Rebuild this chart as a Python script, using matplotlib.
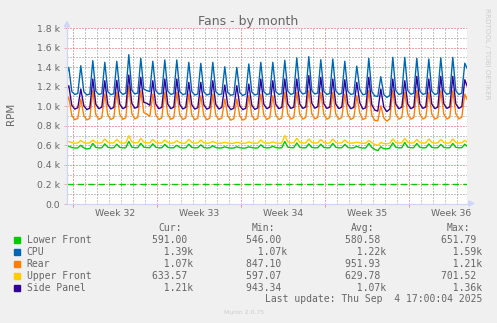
import numpy as np
import matplotlib

matplotlib.use("Agg")
import matplotlib.pyplot as plt
import matplotlib.transforms as mtransforms
from matplotlib.patches import Rectangle, Polygon
from matplotlib.lines import Line2D

W, H = 497, 323

names = ["Lower Front", "CPU", "Rear", "Upper Front", "Side Panel"]
colors = ["#00cc00", "#0066b3", "#ff8000", "#ffcc00", "#330099"]

# sample times in days from the left edge: one point before the edge,
# then every 6 h starting at the daily afternoon peak, then the last update
t_days = np.concatenate([[-0.1], np.arange(0.15, 33.0, 0.25), [33.15, 33.33]])

lower_front = [
    582,
    590, 578, 572, 574,  600, 575, 562, 568,
    620, 579, 573, 575,  615, 580, 574, 576,
    612, 579, 574, 576,  640, 582, 575, 577,
    620, 582, 576, 577,  615, 580, 574, 576,
    610, 579, 574, 576,  600, 578, 573, 575,
    612, 579, 574, 576,  605, 578, 573, 575,
    595, 577, 572, 574,  585, 576, 571, 573,
    585, 576, 571, 573,  585, 577, 572, 574,
    605, 579, 574, 576,  590, 577, 573, 575,
    640, 582, 575, 577,  625, 580, 574, 576,
    615, 579, 574, 576,  612, 579, 574, 576,
    620, 580, 574, 576,  610, 579, 573, 575,
    590, 577, 572, 574,  620, 578, 558, 546,
    585, 566, 564, 572,  625, 580, 574, 576,
    630, 581, 575, 577,  620, 580, 574, 576,
    615, 579, 574, 576,  610, 579, 574, 576,
    620, 580, 574, 577,
    612, 591,
]

cpu = [
    1300,
    1398, 1150, 1120, 1130,  1414, 1150, 1115, 1125,
    1466, 1155, 1120, 1130,  1449, 1150, 1118, 1128,
    1459, 1152, 1120, 1135,  1527, 1165, 1125, 1135,
    1490, 1175, 1160, 1150,  1460, 1160, 1125, 1132,
    1473, 1155, 1120, 1130,  1473, 1150, 1118, 1128,
    1449, 1150, 1115, 1125,  1439, 1148, 1115, 1125,
    1449, 1150, 1118, 1125,  1404, 1140, 1112, 1120,
    1398, 1140, 1110, 1125,  1432, 1145, 1115, 1125,
    1449, 1150, 1118, 1128,  1449, 1150, 1120, 1130,
    1470, 1155, 1120, 1132,  1495, 1160, 1125, 1135,
    1507, 1160, 1125, 1135,  1476, 1155, 1120, 1130,
    1483, 1158, 1122, 1132,  1460, 1155, 1120, 1128,
    1410, 1170, 1118, 1125,  1490, 1150, 1105, 1100,
    1302, 1120, 1090, 1110,  1500, 1160, 1120, 1130,
    1500, 1160, 1122, 1132,  1490, 1158, 1120, 1130,
    1483, 1155, 1120, 1130,  1495, 1160, 1122, 1132,
    1500, 1160, 1120, 1135,
    1440, 1390,
]

rear = [
    1030,
    1091, 905, 862, 875,  1074, 905, 860, 875,
    1159, 915, 866, 882,  1125, 912, 865, 880,
    1142, 915, 866, 882,  1203, 925, 870, 885,
    1159, 935, 920, 895,  1125, 912, 865, 880,
    1142, 915, 866, 882,  1142, 912, 865, 880,
    1125, 910, 862, 878,  1108, 908, 862, 878,
    1125, 910, 864, 880,  1074, 900, 858, 872,
    1074, 900, 858, 874,  1108, 906, 862, 876,
    1125, 912, 866, 882,  1108, 910, 865, 880,
    1142, 918, 868, 884,  1142, 918, 868, 885,
    1159, 922, 870, 886,  1142, 918, 868, 884,
    1142, 918, 867, 884,  1125, 915, 866, 882,
    1108, 930, 864, 878,  1159, 908, 855, 850,
    1005, 880, 847, 870,  1159, 920, 868, 884,
    1142, 918, 868, 884,  1159, 920, 869, 885,
    1142, 918, 868, 884,  1159, 920, 869, 886,
    1159, 922, 870, 888,
    1125, 1070,
]

upper_front = [
    630,
    640, 628, 622, 624,  650, 628, 622, 625,
    654, 630, 623, 626,  665, 632, 623, 626,
    661, 630, 622, 626,  698, 635, 625, 627,
    671, 632, 625, 626,  661, 630, 623, 625,
    654, 630, 622, 625,  647, 628, 622, 624,
    661, 630, 622, 625,  654, 628, 622, 624,
    640, 626, 621, 623,  630, 624, 620, 622,
    632, 624, 620, 622,  635, 625, 621, 623,
    655, 628, 622, 624,  635, 625, 621, 624,
    700, 635, 624, 626,  672, 632, 623, 626,
    665, 630, 623, 625,  660, 630, 622, 625,
    665, 630, 623, 625,  655, 628, 622, 624,
    632, 625, 621, 622,  650, 628, 610, 600,
    630, 618, 616, 622,  665, 630, 623, 626,
    670, 632, 623, 626,  660, 630, 622, 625,
    665, 630, 623, 625,  660, 630, 622, 625,
    665, 630, 623, 626,
    650, 634,
]

side_panel = [
    1150,
    1210, 1010, 970, 985,  1176, 1005, 965, 980,
    1278, 1020, 975, 990,  1261, 1018, 972, 988,
    1265, 1020, 975, 990,  1319, 1030, 980, 992,
    1296, 1040, 1030, 1010,  1261, 1020, 975, 988,
    1278, 1020, 975, 990,  1278, 1018, 972, 988,
    1244, 1015, 970, 985,  1244, 1015, 970, 985,
    1261, 1018, 972, 988,  1217, 1008, 965, 980,
    1210, 1005, 965, 980,  1227, 1010, 968, 982,
    1278, 1020, 975, 990,  1261, 1018, 975, 988,
    1278, 1022, 978, 990,  1278, 1022, 978, 992,
    1313, 1030, 980, 995,  1296, 1025, 978, 990,
    1278, 1022, 976, 990,  1271, 1020, 975, 988,
    1244, 1035, 972, 985,  1296, 1015, 960, 950,
    1176, 990, 945, 970,  1278, 1022, 975, 990,
    1261, 1020, 975, 990,  1306, 1025, 978, 992,
    1278, 1022, 976, 990,  1306, 1025, 978, 992,
    1306, 1025, 978, 995,
    1271, 1210,
]

series = [lower_front, cpu, rear, upper_front, side_panel]

# horizontal reference line drawn for the lower front fan
lower_front_line = 200

stat_cur = [591.00, 1390, 1070, 633.57, 1210]
stat_min = [546.00, 1070, 847.10, 597.07, 943.34]
stat_avg = [580.58, 1220, 951.93, 629.78, 1070]
stat_max = [651.79, 1590, 1210, 701.52, 1360]

week_labels = ["Week 32", "Week 33", "Week 34", "Week 35", "Week 36"]

FONT = "#666666"
AXIS = "#cfd6f8"
MONO = "DejaVu Sans Mono"


def fx(x):
    return x / W


def fy(y):
    return 1 - y / H


def si(v):
    if v >= 1000:
        return f"{v / 1000:6.2f}k"
    return f"{v:6.2f} "


fig = plt.figure(figsize=(W / 100, H / 100), dpi=100, facecolor="#f0f0f0")
ax = fig.add_axes([fx(67), fy(204), 400 / W, 176 / H], facecolor="white")

x_end = 400 / 12
week_lines = np.arange(0.5, x_end, 7)
day_lines = [d for d in np.arange(0.5, x_end, 1) if d not in week_lines]
ax.set_xticks(week_lines)
ax.set_xticks(day_lines, minor=True)
ax.set_xticklabels([])
ax.set_yticks(np.arange(0, 1801, 200))
ax.set_yticks(np.arange(100, 1800, 200), minor=True)
ax.set_yticklabels(["0.0"] + [f"{v / 1000:.1f} k" for v in range(200, 1801, 200)])

ax.grid(which="minor", color=(0.56, 0.56, 0.56, 0.45), ls=(0, (1, 2)), lw=0.72)
ax.grid(which="major", color=(0.87, 0.31, 0.31, 0.45), ls=(0, (1, 2)), lw=0.72)
ax.tick_params(which="minor", length=0)
ax.tick_params(axis="x", which="major", length=2.2, width=0.72,
               color=(0.87, 0.31, 0.31, 0.6))
ax.tick_params(axis="y", which="major", length=2.0, width=0.72,
               color=(0.87, 0.31, 0.31, 0.4), pad=3.2,
               labelsize=6.7, labelcolor=FONT)
for s in ax.spines.values():
    s.set_visible(False)
ax.set_axisbelow(True)

ax.axhline(lower_front_line, color=colors[0], lw=1.0, ls=(0, (4.5, 3)))
for vals, c in zip(series, colors):
    ax.plot(t_days, vals, color=c, lw=1.0)

ax.set_xlim(0, x_end)
ax.set_ylim(0, 1800)

# axis lines with arrow heads
fig.add_artist(Line2D([fx(67), fx(67)], [fy(204), fy(26)], color=AXIS, lw=0.9))
fig.add_artist(Line2D([fx(67), fx(470)], [fy(204), fy(204)], color=AXIS, lw=0.9))
fig.add_artist(Polygon([(fx(67), fy(21.5)), (fx(64.4), fy(26.8)), (fx(69.6), fy(26.8))],
                       closed=True, color=AXIS, transform=fig.transFigure))
fig.add_artist(Polygon([(fx(474), fy(203.5)), (fx(468.7), fy(200.9)), (fx(468.7), fy(206.1))],
                       closed=True, color=AXIS, transform=fig.transFigure))

# week names centred inside each week
trans = mtransforms.blended_transform_factory(ax.transData, fig.transFigure)
for i, lab in enumerate(week_labels):
    ax.text(week_lines[0] + 3.5 + 7 * i, fy(216.5), lab, transform=trans,
            ha="center", va="baseline", fontsize=6.7, color=FONT, clip_on=False)

fig.text(fx(248), fy(25), "Fans - by month", ha="center", va="baseline",
         fontsize=9, color=FONT)
fig.text(fx(10.8), fy(114), "RPM", rotation=90, ha="center", va="center",
         fontsize=7.5, color=FONT)
fig.text(fx(487.5), fy(53.5), "RRDTOOL / TOBI OETIKER", rotation=270,
         ha="center", va="center", fontsize=5.1, color="#cccccc")

# legend table
col_x = [152, 246, 345, 441]
for x, head in zip(col_x, ["Cur:", "Min:", "Avg:", "Max:"]):
    fig.text(fx(x + 6), fy(231.3), head, family=MONO, fontsize=7,
             color=FONT, va="baseline")
for i, name in enumerate(names):
    base = 243.3 + 12 * i
    fig.add_artist(Rectangle((fx(14), fy(base)), 6 / W, 6 / H, color=colors[i],
                             transform=fig.transFigure))
    fig.text(fx(26.7), fy(base), name, family=MONO, fontsize=7,
             color=FONT, va="baseline")
    for x, v in zip(col_x, [stat_cur[i], stat_min[i], stat_avg[i], stat_max[i]]):
        fig.text(fx(x), fy(base), si(v), family=MONO, fontsize=7,
                 color=FONT, va="baseline")

fig.text(fx(482), fy(302.5), "Last update: Thu Sep  4 17:00:04 2025",
         family=MONO, fontsize=7, color=FONT, ha="right", va="baseline")
fig.text(fx(244), fy(314.5), "Munin 2.0.75", ha="center", va="baseline",
         fontsize=4.4, color="#cccccc")

fig.savefig("out.png", dpi=100, facecolor=fig.get_facecolor())
